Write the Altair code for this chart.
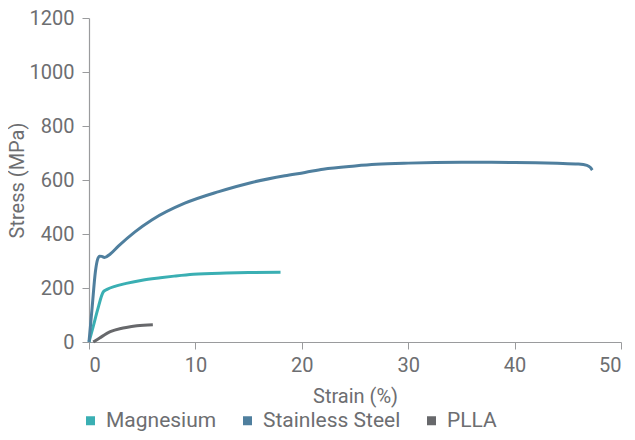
import altair as alt
import pandas as pd

series = ["Magnesium", "Stainless Steel", "PLLA"]
colors = ["#3aafb3", "#4f7f9e", "#67686b"]

mg_strain = [0, 0.4, 0.8, 1.35, 1.7, 2.5, 3.5, 5, 6.7, 8, 9.8, 12.9, 15, 18]
mg_stress = [0, 58, 118, 186, 195, 207, 217, 229, 238, 244, 251, 255.5, 257, 258]

ss_strain = [0, 0.3, 0.6, 0.8, 1.0, 1.2, 1.45, 2, 2.76, 4.32, 5.9, 9.0, 12.2, 15.3, 18.4, 20.3, 22, 25, 27, 30, 35, 40, 44, 46, 46.8, 47.1, 47.3]
ss_stress = [0, 130, 260, 305, 318, 317, 313, 326, 355, 408, 452, 514, 557, 591, 616, 628, 640, 652, 658, 662.5, 665.5, 665, 662, 659, 654, 647, 637]

pl_strain = [0.4, 1, 2, 3, 3.5, 4.5, 6]
pl_stress = [0, 15, 38, 50, 54, 60, 64]

rows = []
for s, xs, ys in [(series[0], mg_strain, mg_stress), (series[1], ss_strain, ss_stress), (series[2], pl_strain, pl_stress)]:
    for i, (x, y) in enumerate(zip(xs, ys)):
        rows.append({"Material": s, "Strain": x, "Stress": y, "order": i})
df = pd.DataFrame(rows)

FONT = "Roboto"
GRAY = "#6d6e71"

chart = alt.Chart(df).mark_line(strokeWidth=3, interpolate="monotone").encode(
    x=alt.X("Strain:Q", scale=alt.Scale(domain=[0, 50], nice=False),
            axis=alt.Axis(title="Strain (%)", values=[0, 10, 20, 30, 40, 50], grid=False, format="d",
                          tickSize=7, labelPadding=6, titlePadding=11)),
    y=alt.Y("Stress:Q", scale=alt.Scale(domain=[0, 1200], nice=False),
            axis=alt.Axis(title="Stress (MPa)", values=[0, 200, 400, 600, 800, 1000, 1200], grid=False, format="d",
                          tickSize=7, labelPadding=8, titlePadding=2)),
    color=alt.Color("Material:N", scale=alt.Scale(domain=series, range=colors),
                    sort=series,
                    legend=alt.Legend(title=None, orient="none", direction="horizontal",
                                      legendX=-9, legendY=392, padding=0,
                                      symbolType="square", symbolSize=16, symbolStrokeWidth=5,
                                      labelFontSize=21, columnPadding=18, labelOffset=5,
                                      labelColor=GRAY, labelFont=FONT)),
    detail="Material:N",
    order="order:Q",
).properties(
    width=532, height=324,
    autosize=alt.AutoSizeParams(type="none"),
    padding={"left": 81, "top": 10, "right": 6, "bottom": 90},
).configure_view(stroke=None).configure_axis(
    domainColor="#9a9b9d", tickColor="#9a9b9d", domainWidth=1.2,
    labelFont=FONT, titleFont=FONT, labelFontSize=20, titleFontSize=20,
    labelColor=GRAY, titleColor=GRAY, titleFontWeight="normal",
)

chart.save("out.html", embed_options={"renderer": "svg", "actions": False})
